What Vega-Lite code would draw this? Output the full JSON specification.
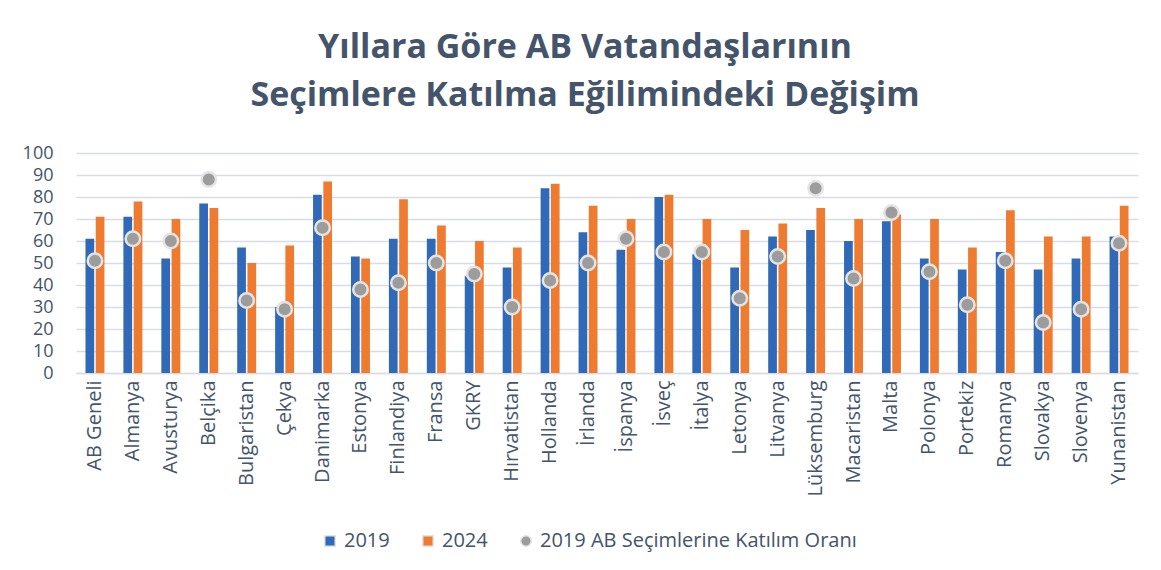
{
  "$schema": "https://vega.github.io/schema/vega-lite/v6.json",
  "autosize": "none",
  "width": 1062,
  "height": 220,
  "padding": {"left": 76, "top": 153, "right": 23, "bottom": 197},
  "background": "white",
  "config": {
    "font": "Open Sans",
    "view": {"stroke": null}
  },
  "title": {
    "text": ["Yıllara Göre AB Vatandaşlarının", "Seçimlere Katılma Eğilimindeki Değişim"],
    "font": "Open Sans",
    "fontSize": 34,
    "fontWeight": "bold",
    "color": "#44546A",
    "lineHeight": 48,
    "anchor": "middle",
    "frame": "group",
    "dx": -22,
    "baseline": "alphabetic",
    "offset": 4
  },
  "datasets": {
    "bars": [
      {"country": "AB Geneli", "series": "2019", "value": 61},
      {"country": "AB Geneli", "series": "2024", "value": 71},
      {"country": "Almanya", "series": "2019", "value": 71},
      {"country": "Almanya", "series": "2024", "value": 78},
      {"country": "Avusturya", "series": "2019", "value": 52},
      {"country": "Avusturya", "series": "2024", "value": 70},
      {"country": "Belçika", "series": "2019", "value": 77},
      {"country": "Belçika", "series": "2024", "value": 75},
      {"country": "Bulgaristan", "series": "2019", "value": 57},
      {"country": "Bulgaristan", "series": "2024", "value": 50},
      {"country": "Çekya", "series": "2019", "value": 30},
      {"country": "Çekya", "series": "2024", "value": 58},
      {"country": "Danimarka", "series": "2019", "value": 81},
      {"country": "Danimarka", "series": "2024", "value": 87},
      {"country": "Estonya", "series": "2019", "value": 53},
      {"country": "Estonya", "series": "2024", "value": 52},
      {"country": "Finlandiya", "series": "2019", "value": 61},
      {"country": "Finlandiya", "series": "2024", "value": 79},
      {"country": "Fransa", "series": "2019", "value": 61},
      {"country": "Fransa", "series": "2024", "value": 67},
      {"country": "GKRY", "series": "2019", "value": 44},
      {"country": "GKRY", "series": "2024", "value": 60},
      {"country": "Hırvatistan", "series": "2019", "value": 48},
      {"country": "Hırvatistan", "series": "2024", "value": 57},
      {"country": "Hollanda", "series": "2019", "value": 84},
      {"country": "Hollanda", "series": "2024", "value": 86},
      {"country": "İrlanda", "series": "2019", "value": 64},
      {"country": "İrlanda", "series": "2024", "value": 76},
      {"country": "İspanya", "series": "2019", "value": 56},
      {"country": "İspanya", "series": "2024", "value": 70},
      {"country": "İsveç", "series": "2019", "value": 80},
      {"country": "İsveç", "series": "2024", "value": 81},
      {"country": "İtalya", "series": "2019", "value": 54},
      {"country": "İtalya", "series": "2024", "value": 70},
      {"country": "Letonya", "series": "2019", "value": 48},
      {"country": "Letonya", "series": "2024", "value": 65},
      {"country": "Litvanya", "series": "2019", "value": 62},
      {"country": "Litvanya", "series": "2024", "value": 68},
      {"country": "Lüksemburg", "series": "2019", "value": 65},
      {"country": "Lüksemburg", "series": "2024", "value": 75},
      {"country": "Macaristan", "series": "2019", "value": 60},
      {"country": "Macaristan", "series": "2024", "value": 70},
      {"country": "Malta", "series": "2019", "value": 69},
      {"country": "Malta", "series": "2024", "value": 72},
      {"country": "Polonya", "series": "2019", "value": 52},
      {"country": "Polonya", "series": "2024", "value": 70},
      {"country": "Portekiz", "series": "2019", "value": 47},
      {"country": "Portekiz", "series": "2024", "value": 57},
      {"country": "Romanya", "series": "2019", "value": 55},
      {"country": "Romanya", "series": "2024", "value": 74},
      {"country": "Slovakya", "series": "2019", "value": 47},
      {"country": "Slovakya", "series": "2024", "value": 62},
      {"country": "Slovenya", "series": "2019", "value": 52},
      {"country": "Slovenya", "series": "2024", "value": 62},
      {"country": "Yunanistan", "series": "2019", "value": 62},
      {"country": "Yunanistan", "series": "2024", "value": 76}
    ],
    "dots": [
      {"country": "AB Geneli", "series": "2019 AB Seçimlerine Katılım Oranı", "value": 51},
      {"country": "Almanya", "series": "2019 AB Seçimlerine Katılım Oranı", "value": 61},
      {"country": "Avusturya", "series": "2019 AB Seçimlerine Katılım Oranı", "value": 60},
      {"country": "Belçika", "series": "2019 AB Seçimlerine Katılım Oranı", "value": 88},
      {"country": "Bulgaristan", "series": "2019 AB Seçimlerine Katılım Oranı", "value": 33},
      {"country": "Çekya", "series": "2019 AB Seçimlerine Katılım Oranı", "value": 29},
      {"country": "Danimarka", "series": "2019 AB Seçimlerine Katılım Oranı", "value": 66},
      {"country": "Estonya", "series": "2019 AB Seçimlerine Katılım Oranı", "value": 38},
      {"country": "Finlandiya", "series": "2019 AB Seçimlerine Katılım Oranı", "value": 41},
      {"country": "Fransa", "series": "2019 AB Seçimlerine Katılım Oranı", "value": 50},
      {"country": "GKRY", "series": "2019 AB Seçimlerine Katılım Oranı", "value": 45},
      {"country": "Hırvatistan", "series": "2019 AB Seçimlerine Katılım Oranı", "value": 30},
      {"country": "Hollanda", "series": "2019 AB Seçimlerine Katılım Oranı", "value": 42},
      {"country": "İrlanda", "series": "2019 AB Seçimlerine Katılım Oranı", "value": 50},
      {"country": "İspanya", "series": "2019 AB Seçimlerine Katılım Oranı", "value": 61},
      {"country": "İsveç", "series": "2019 AB Seçimlerine Katılım Oranı", "value": 55},
      {"country": "İtalya", "series": "2019 AB Seçimlerine Katılım Oranı", "value": 55},
      {"country": "Letonya", "series": "2019 AB Seçimlerine Katılım Oranı", "value": 34},
      {"country": "Litvanya", "series": "2019 AB Seçimlerine Katılım Oranı", "value": 53},
      {"country": "Lüksemburg", "series": "2019 AB Seçimlerine Katılım Oranı", "value": 84},
      {"country": "Macaristan", "series": "2019 AB Seçimlerine Katılım Oranı", "value": 43},
      {"country": "Malta", "series": "2019 AB Seçimlerine Katılım Oranı", "value": 73},
      {"country": "Polonya", "series": "2019 AB Seçimlerine Katılım Oranı", "value": 46},
      {"country": "Portekiz", "series": "2019 AB Seçimlerine Katılım Oranı", "value": 31},
      {"country": "Romanya", "series": "2019 AB Seçimlerine Katılım Oranı", "value": 51},
      {"country": "Slovakya", "series": "2019 AB Seçimlerine Katılım Oranı", "value": 23},
      {"country": "Slovenya", "series": "2019 AB Seçimlerine Katılım Oranı", "value": 29},
      {"country": "Yunanistan", "series": "2019 AB Seçimlerine Katılım Oranı", "value": 59}
    ]
  },
  "encoding": {
    "x": {
      "field": "country",
      "type": "nominal",
      "sort": null,
      "scale": {"paddingInner": 0.5, "paddingOuter": 0.25},
      "axis": {
        "title": null,
        "labelAngle": -90,
        "labelFontSize": 20,
        "labelColor": "#44546A",
        "labelPadding": 7,
        "ticks": false,
        "domainColor": "#D9DDE3",
        "domainWidth": 1.5,
        "labelBaseline": "middle"
      }
    },
    "y": {
      "field": "value",
      "type": "quantitative",
      "scale": {"domain": [0, 100], "nice": false},
      "axis": {
        "title": null,
        "values": [0, 10, 20, 30, 40, 50, 60, 70, 80, 90, 100],
        "domain": false,
        "ticks": false,
        "labelFontSize": 18,
        "labelColor": "#44546A",
        "labelPadding": 23,
        "gridColor": "#D9DDE3",
        "gridWidth": 1.5
      }
    }
  },
  "resolve": {"legend": {"color": "shared", "shape": "shared"}},
  "layer": [
    {
      "data": {"name": "bars"},
      "mark": {"type": "bar"},
      "encoding": {
        "xOffset": {"field": "series", "type": "nominal", "scale": {"paddingInner": 0.15}},
        "color": {
          "field": "series",
          "type": "nominal",
          "title": null,
          "scale": {
            "domain": ["2019", "2024", "2019 AB Seçimlerine Katılım Oranı"],
            "range": ["#2F69B8", "#EE7B30", "#9C9C9C"]
          },
          "legend": {
            "title": null,
            "orient": "none",
            "direction": "horizontal",
            "legendX": 244,
            "legendY": 378,
            "labelFontSize": 20,
            "labelColor": "#44546A",
            "symbolSize": 110,
            "columnPadding": 28,
            "labelLimit": 400
          }
        }
      }
    },
    {
      "data": {"name": "dots"},
      "mark": {"type": "point", "filled": true, "size": 210, "stroke": "#E4E4E4", "strokeWidth": 2.5, "opacity": 1},
      "encoding": {
        "color": {"field": "series", "type": "nominal", "title": null},
        "shape": {
          "field": "series",
          "type": "nominal",
          "title": null,
          "scale": {
            "domain": ["2019", "2024", "2019 AB Seçimlerine Katılım Oranı"],
            "range": ["square", "square", "circle"]
          },
          "legend": {
            "title": null,
            "orient": "none",
            "direction": "horizontal",
            "legendX": 244,
            "legendY": 378,
            "labelFontSize": 20,
            "labelColor": "#44546A",
            "symbolSize": 110,
            "columnPadding": 28,
            "labelLimit": 400
          }
        }
      }
    }
  ]
}
